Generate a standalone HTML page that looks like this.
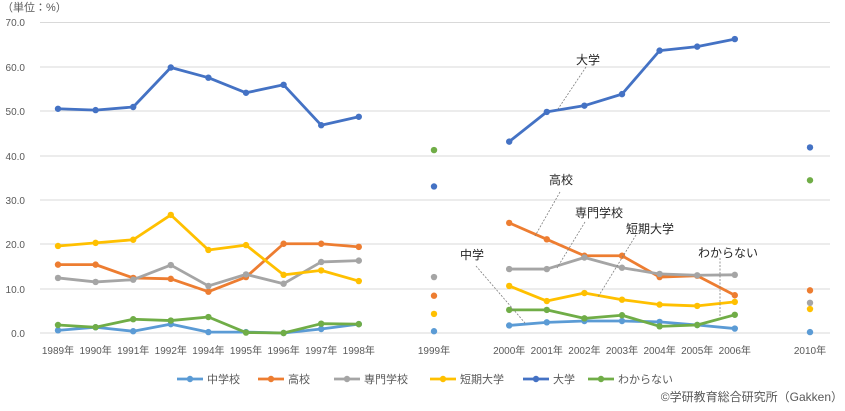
<!DOCTYPE html>
<html><head><meta charset="utf-8"><style>
body{margin:0;background:#fff}
svg text{font-family:"Liberation Sans","Noto Sans CJK JP",sans-serif;fill:#595959}
</style></head><body>
<svg width="845" height="406" xmlns="http://www.w3.org/2000/svg">
<g stroke="#d9d9d9" stroke-width="1">
<line x1="40" x2="830" y1="22.5" y2="22.5"/><line x1="40" x2="830" y1="67" y2="67"/><line x1="40" x2="830" y1="111" y2="111"/><line x1="40" x2="830" y1="156" y2="156"/><line x1="40" x2="830" y1="200" y2="200"/><line x1="40" x2="830" y1="244" y2="244"/><line x1="40" x2="830" y1="289" y2="289"/><line x1="40" x2="830" y1="333" y2="333"/>
</g>
<g font-size="10" text-anchor="end">
<text x="25" y="337">0.0</text><text x="25" y="293">10.0</text><text x="25" y="248">20.0</text><text x="25" y="204">30.0</text><text x="25" y="160">40.0</text><text x="25" y="115">50.0</text><text x="25" y="71">60.0</text><text x="25" y="26">70.0</text>
</g>
<text x="2" y="11" font-size="11">（単位：%）</text>
<g font-size="10" text-anchor="middle" id="xl"></g>
<g id="plot"></g>
<g stroke="#7f7f7f" stroke-width="0.8" stroke-dasharray="2,1.5" fill="none">
<line x1="586" y1="67" x2="558" y2="109"/><line x1="560" y1="192" x2="535" y2="236"/><line x1="585" y1="222" x2="557" y2="268"/><line x1="636" y1="235" x2="598" y2="297"/><line x1="476" y1="266" x2="525" y2="323"/><line x1="720" y1="258" x2="720" y2="316"/>
</g>
<g font-size="12" text-anchor="middle" style="fill:#262626">
<text x="588" y="64" style="fill:#262626">大学</text><text x="561" y="184" style="fill:#262626">高校</text><text x="599" y="217" style="fill:#262626">専門学校</text><text x="650" y="233" style="fill:#262626">短期大学</text><text x="472" y="259" style="fill:#262626">中学</text><text x="728" y="257" style="fill:#262626">わからない</text>
</g>
<g font-size="11" id="leg"></g>
<text x="843" y="401" font-size="12" text-anchor="end">©学研教育総合研究所（Gakken）</text>
<script>
var ns="http://www.w3.org/2000/svg";
function X(i){return 58+i*37.6}
function Y(v){return 333-v*4.44}
var labs=["1989年","1990年","1991年","1992年","1994年","1995年","1996年","1997年","1998年",null,"1999年",null,"2000年","2001年","2002年","2003年","2004年","2005年","2006年",null,"2010年"];
var xl=document.getElementById("xl");
labs.forEach(function(l,i){if(!l)return;var t=document.createElementNS(ns,"text");t.setAttribute("x",X(i));t.setAttribute("y",354);t.textContent=l;xl.appendChild(t);});
var S=[
["中学校","#5b9bd5",[0.6,1.3,0.4,2.0,0.2,0.2,0.0,0.9,2.0],0.4,[1.7,2.4,2.7,2.7,2.5,1.8,1.0],0.2],
["高校","#ed7d31",[15.4,15.4,12.4,12.2,9.3,12.6,20.1,20.1,19.4],8.4,[24.8,21.1,17.4,17.4,12.6,12.9,8.5],9.6],
["専門学校","#a5a5a5",[12.4,11.5,12.0,15.3,10.6,13.2,11.1,16.0,16.3],12.6,[14.4,14.4,17.0,14.7,13.3,13.0,13.1],6.8],
["短期大学","#ffc000",[19.6,20.3,21.0,26.6,18.7,19.8,13.1,14.1,11.7],4.3,[10.6,7.2,9.0,7.5,6.4,6.1,7.0],5.4],
["大学","#4472c4",[50.5,50.2,50.9,59.8,57.5,54.1,55.9,46.8,48.7],33.0,[43.1,49.8,51.2,53.8,63.6,64.5,66.2],41.8],
["わからない","#70ad47",[1.8,1.3,3.1,2.8,3.6,0.1,0.0,2.1,2.0],41.2,[5.2,5.2,3.3,4.0,1.5,1.8,4.1],34.4]];
var P=document.getElementById("plot");
function dot(x,y,c){var e=document.createElementNS(ns,"circle");e.setAttribute("cx",x);e.setAttribute("cy",y);e.setAttribute("r",3.2);e.setAttribute("fill",c);P.appendChild(e);}
function line(arr,off,c){var pts=arr.map(function(v,k){return X(off+k)+","+Y(v)}).join(" ");var e=document.createElementNS(ns,"polyline");e.setAttribute("points",pts);e.setAttribute("fill","none");e.setAttribute("stroke",c);e.setAttribute("stroke-width",2.8);e.setAttribute("stroke-linejoin","round");P.appendChild(e);arr.forEach(function(v,k){dot(X(off+k),Y(v),c)});}
S.forEach(function(s){line(s[2],0,s[1]);dot(X(10),Y(s[3]),s[1]);line(s[4],12,s[1]);dot(X(20),Y(s[5]),s[1]);});
var L=document.getElementById("leg");var lx=[177,258,334,430,523,588];
S.forEach(function(s,i){var x=lx[i];var l=document.createElementNS(ns,"line");l.setAttribute("x1",x);l.setAttribute("x2",x+26);l.setAttribute("y1",379);l.setAttribute("y2",379);l.setAttribute("stroke",s[1]);l.setAttribute("stroke-width",2.8);L.appendChild(l);var c=document.createElementNS(ns,"circle");c.setAttribute("cx",x+13);c.setAttribute("cy",379);c.setAttribute("r",3.2);c.setAttribute("fill",s[1]);L.appendChild(c);var t=document.createElementNS(ns,"text");t.setAttribute("x",x+30);t.setAttribute("y",383);t.textContent=s[0];L.appendChild(t);});
</script>
</svg>
</body></html>
